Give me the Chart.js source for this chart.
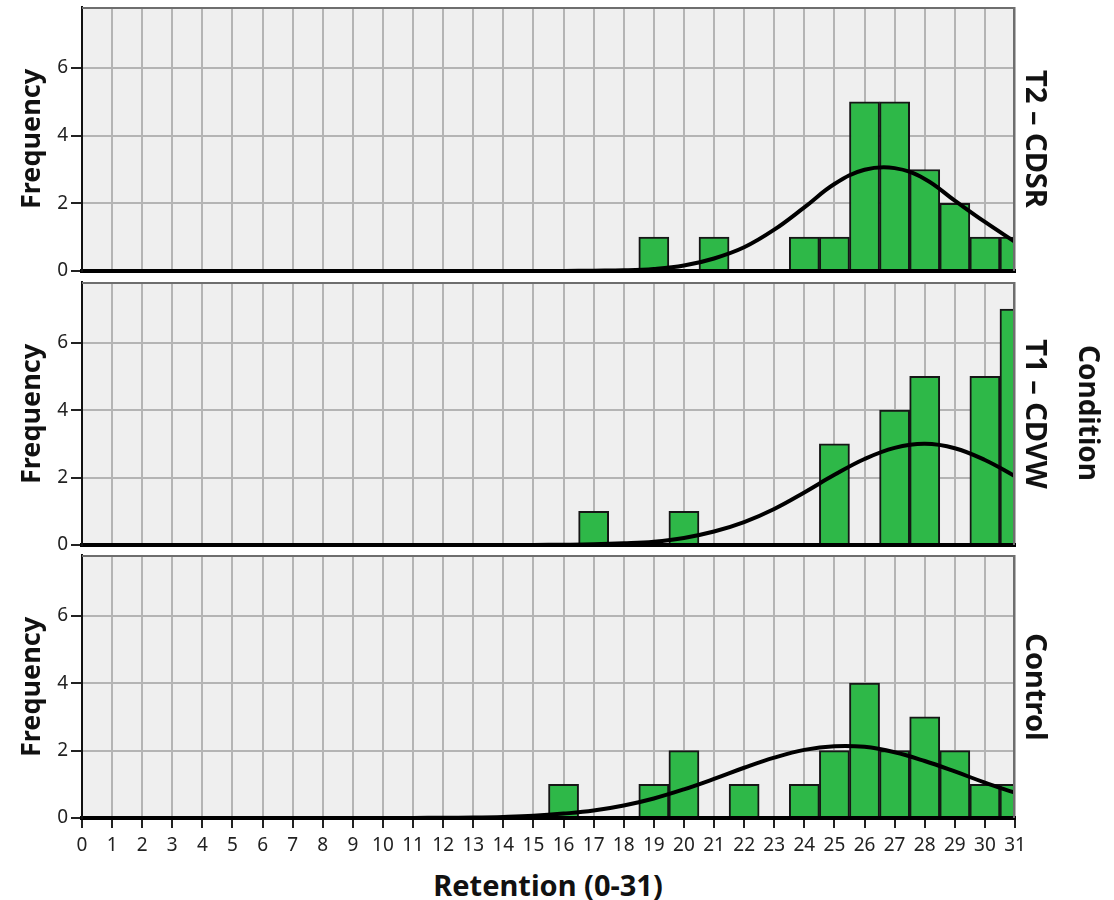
<!DOCTYPE html>
<html>
<head>
<meta charset="utf-8">
<script src="https://cdn.jsdelivr.net/npm/chart.js@4/dist/chart.umd.min.js"></script>
<style>
  html, body { margin: 0; padding: 0; background: #fff; }
  #wrap { position: relative; width: 1114px; height: 900px; overflow: hidden; font-family: "Noto Sans", sans-serif; }
  #wrap canvas { position: absolute; left: 0; }
  .lbl { position: absolute; white-space: nowrap; font-weight: bold; color: #111; line-height: 1; }
</style>
</head>
<body>
<div id="wrap">
  <canvas id="pT2" width="1114" height="304"></canvas>
  <canvas id="pT1" width="1114" height="303"></canvas>
  <canvas id="pCtl" width="1114" height="323"></canvas>
</div>
<script>
// Retention score bins (0-31)
const retention = [0,1,2,3,4,5,6,7,8,9,10,11,12,13,14,15,16,17,18,19,20,21,22,23,24,25,26,27,28,29,30,31];

// Frequency per score, one array per condition
const countsT2  = [0,0,0,0,0,0,0,0,0,0,0,0,0,0,0,0,0,0,0,1,0,1,0,0,1,1,5,5,3,2,1,1];
const countsT1  = [0,0,0,0,0,0,0,0,0,0,0,0,0,0,0,0,0,1,0,0,1,0,0,0,0,3,0,4,5,0,5,7];
const countsCtl = [0,0,0,0,0,0,0,0,0,0,0,0,0,0,0,0,1,0,0,1,2,0,1,0,1,2,4,2,3,2,1,1];

// Normal curve heights at each score
const curveT2  = [0,0,0,0,0,0,0,0,0,0,0,0,0,0,0,0,0,0.01,0.02,0.06,0.16,0.37,0.70,1.22,1.88,2.57,2.99,3.04,2.72,2.08,1.45,0.86];
const curveT1  = [0,0,0,0,0,0,0,0,0,0,0,0,0,0,0,0.003,0.008,0.02,0.05,0.10,0.21,0.40,0.68,1.07,1.56,2.08,2.55,2.88,3.00,2.87,2.52,2.04];
const curveCtl = [0,0,0,0,0,0,0,0,0,0,0.001,0.003,0.007,0.015,0.033,0.066,0.13,0.22,0.37,0.58,0.85,1.16,1.49,1.79,2.02,2.13,2.11,1.95,1.69,1.38,1.05,0.75];

// Axis ticks and labels
const freqTicks = [0, 2, 4, 6];
const freqMax = 7.8;
const stripLabels = ["T2 \u2013 CDSR", "T1 \u2013 CDVW", "Control"];
const groupTitle = "Condition";
const xTitle = "Retention (0-31)";
const yTitle = "Frequency";

const GREEN = "rgb(46,184,72)";
const PLOT_LEFT = 82, PLOT_RIGHT = 1015;

Chart.defaults.font.family = '"Noto Sans", sans-serif';
Chart.defaults.color = "#222";

// Panel background and the grey top/right frame
const framePlugin = {
  id: "panelFrame",
  beforeDraw(chart) {
    const a = chart.chartArea, ctx = chart.ctx;
    ctx.save();
    ctx.fillStyle = "#efefef";
    ctx.fillRect(a.left, a.top, a.right - a.left, a.bottom - a.top);
    ctx.restore();
  },
  afterDraw(chart) {
    const a = chart.chartArea, ctx = chart.ctx;
    ctx.save();
    ctx.strokeStyle = "#6e6e6e";
    ctx.lineWidth = 2;
    ctx.beginPath();
    ctx.moveTo(a.left, a.top + 1);
    ctx.lineTo(a.right - 1, a.top + 1);
    ctx.lineTo(a.right - 1, a.bottom);
    ctx.stroke();
    ctx.restore();
  }
};

function makePanel(id, counts, curve, showX, padTop, padBottom, xHeight) {
  const bars = retention.map((x, i) => ({ x: x, y: counts[i] }));
  const line = retention.map((x, i) => ({ x: x, y: curve[i] }));
  return new Chart(document.getElementById(id), {
    type: "bar",
    data: {
      datasets: [
        {
          type: "line",
          data: line,
          borderColor: "#000",
          borderWidth: 4,
          pointRadius: 0,
          tension: 0.4,
          fill: false,
          order: 0,
          clip: 0
        },
        {
          type: "bar",
          data: bars,
          backgroundColor: GREEN,
          borderColor: "#161616",
          borderWidth: 2,
          borderSkipped: "start",
          barPercentage: 1,
          categoryPercentage: 1,
          order: 1,
          clip: 0
        }
      ]
    },
    options: {
      responsive: false,
      animation: false,
      events: [],
      layout: { padding: { left: 0, right: 1114 - PLOT_RIGHT, top: padTop, bottom: padBottom } },
      plugins: { legend: { display: false }, tooltip: { enabled: false } },
      scales: {
        x: {
          type: "linear",
          min: 0,
          max: 31,
          offset: false,
          grid: {
            offset: false,
            color: "#b4b4b4",
            lineWidth: 2,
            drawTicks: showX,
            tickLength: 10,
            tickColor: "#222",
            tickWidth: 2
          },
          border: { display: true, color: "#000", width: 4, z: 1 },
          ticks: {
            display: showX,
            stepSize: 1,
            autoSkip: false,
            maxRotation: 0,
            padding: 6,
            font: { size: 19 },
            color: "#222"
          },
          afterFit(scale) { scale.height = xHeight; }
        },
        y: {
          min: 0,
          max: freqMax,
          afterBuildTicks(scale) { scale.ticks = freqTicks.map(v => ({ value: v })); },
          grid: {
            color: "#b4b4b4",
            lineWidth: 2,
            tickLength: 11,
            tickColor: "#222",
            tickWidth: 2
          },
          border: { display: true, color: "#111", width: 2, z: 1 },
          ticks: { padding: 3, font: { size: 19 }, color: "#222" },
          afterFit(scale) { scale.width = PLOT_LEFT; }
        }
      }
    },
    plugins: [framePlugin]
  });
}

// Panel plot areas: T2 7..271, T1 282..545, Control 555..818
document.getElementById("pT2").style.top = "-13px";
document.getElementById("pT1").style.top = "262px";
document.getElementById("pCtl").style.top = "535px";

makePanel("pT2", countsT2, curveT2, false, 20, 20, 0);   // 304 = 20 + 264 + 20
makePanel("pT1", countsT1, curveT1, false, 20, 20, 0);   // 303 = 20 + 263 + 20
makePanel("pCtl", countsCtl, curveCtl, true, 20, 0, 40); // 323 = 20 + 263 + 40

// Axis titles and panel strip labels
const wrap = document.getElementById("wrap");
function addLabel(text, cx, cy, size, rot) {
  const d = document.createElement("div");
  d.className = "lbl";
  d.textContent = text;
  d.style.fontSize = size + "px";
  d.style.left = cx + "px";
  d.style.top = cy + "px";
  d.style.transform = "translate(-50%, -50%)" + (rot ? " rotate(" + rot + "deg)" : "");
  wrap.appendChild(d);
}
const panelCenters = [139, 413.5, 686.5];
panelCenters.forEach((cy, i) => {
  addLabel(yTitle, 29, cy, 27, -90);
  addLabel(stripLabels[i], 1037, cy, 29, 90);
});
addLabel(groupTitle, 1090, 413, 28, 90);
addLabel(xTitle, 548, 884, 29, 0);
</script>
</body>
</html>
